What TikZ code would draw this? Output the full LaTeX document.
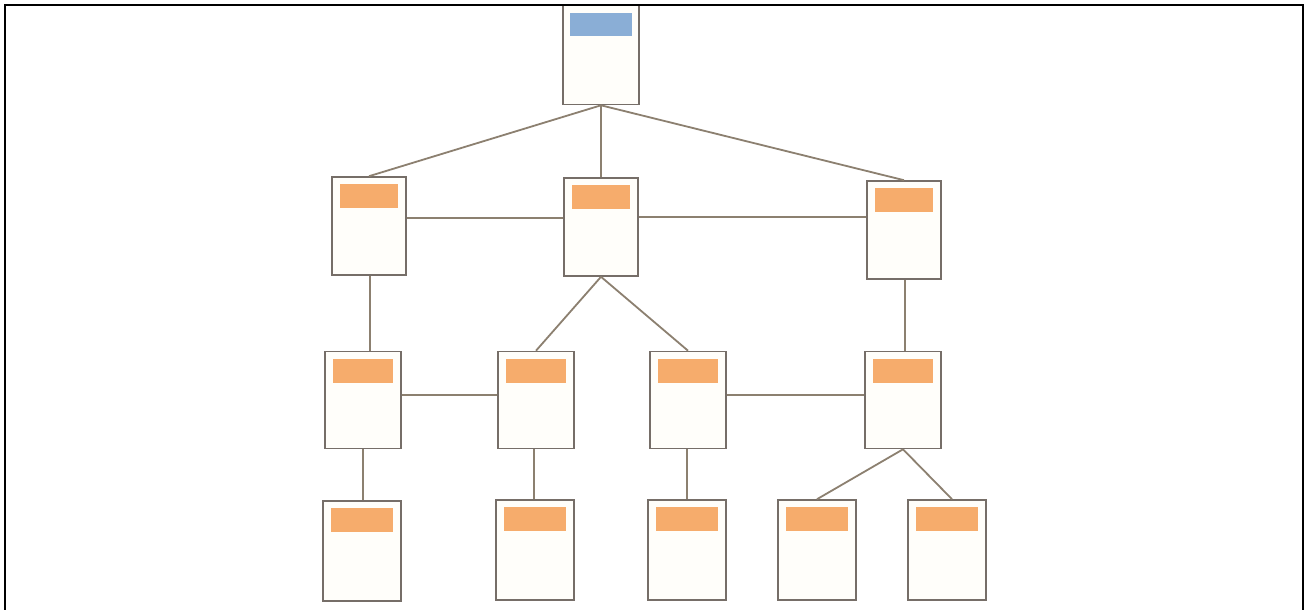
\documentclass[tikz,border=0pt]{standalone}
\begin{document}
\begin{tikzpicture}[x=1pt,y=-1pt,
  framecol/.style={draw=black,line width=2pt},
  link/.style={draw=linkc,line width=1.8pt},
  card/.style={draw=boxc,line width=1.6pt,fill=cardfill,rectangle,inner sep=0pt},
  orangecard/.style={card,path picture={\fill[bandor]
     ([xshift=8pt,yshift=-7pt]path picture bounding box.north west) rectangle
     ([xshift=-8pt,yshift=-31pt]path picture bounding box.north east);}},
  bluecard/.style={card,path picture={\fill[bandbl]
     ([xshift=7pt,yshift=-8pt]path picture bounding box.north west) rectangle
     ([xshift=-7pt,yshift=-31pt]path picture bounding box.north east);}},
  lvA/.style={minimum width=74pt,minimum height=98pt},
  lvB/.style={minimum width=76pt,minimum height=97pt},
  lvC/.style={minimum width=78pt,minimum height=100pt}]
\definecolor{linkc}{RGB}{140,128,112}
\definecolor{boxc}{RGB}{118,110,104}
\definecolor{cardfill}{RGB}{255,254,250}
\definecolor{bandor}{RGB}{246,172,108}
\definecolor{bandbl}{RGB}{138,174,214}
\useasboundingbox (0,0) rectangle (1312,610);
\fill[white] (0,0) rectangle (1312,610);
% connectors
\coordinate (ax) at (370,0);
\coordinate (cx) at (905,0);
\coordinate (dx) at (363,0);
\coordinate (ex) at (534,0);
\coordinate (fx) at (687,0);
\node[bluecard,minimum width=76pt,minimum height=99pt] (top) at (601,55) {};
\node[orangecard,lvA] (a) at (369,226) {};
\node[orangecard,lvA] (b) at (601,227) {};
\node[orangecard,lvA] (c) at (904,230) {};
\node[orangecard,lvB] (d) at (363,400) {};
\node[orangecard,lvB] (e) at (536,400) {};
\node[orangecard,lvB] (f) at (688,400) {};
\node[orangecard,lvB] (g) at (903,400) {};
\node[orangecard,lvC] (h) at (362,551) {};
\node[orangecard,lvC] (i) at (535,550) {};
\node[orangecard,lvC] (j) at (687,550) {};
\node[orangecard,lvC] (k) at (817,550) {};
\node[orangecard,lvC] (l) at (947,550) {};
\draw[link] (top.south) -- (a.north);
\draw[link] (top.south) -- (b.north);
\draw[link] (top.south) -- (c.north);
\draw[link] (a.east |- 0,218) -- (b.west |- 0,218);
\draw[link] (b.east |- 0,217) -- (c.west |- 0,217);
\draw[link] (ax |- a.south) -- (ax |- d.north);
\draw[link] (cx |- c.south) -- (cx |- g.north);
\draw[link] (b.south) -- (e.north);
\draw[link] (b.south) -- (f.north);
\draw[link] (d.east |- 0,395) -- (e.west |- 0,395);
\draw[link] (f.east |- 0,395) -- (g.west |- 0,395);
\draw[link] (dx |- d.south) -- (dx |- h.north);
\draw[link] (ex |- e.south) -- (ex |- i.north);
\draw[link] (fx |- f.south) -- (fx |- j.north);
\draw[link] (g.south) -- (k.north);
\draw[link] (g.south) -- ([xshift=5pt]l.north);
\draw[framecol] (5,612) -- (5,5) -- (1303,5) -- (1303,612);
\end{tikzpicture}
\end{document}
